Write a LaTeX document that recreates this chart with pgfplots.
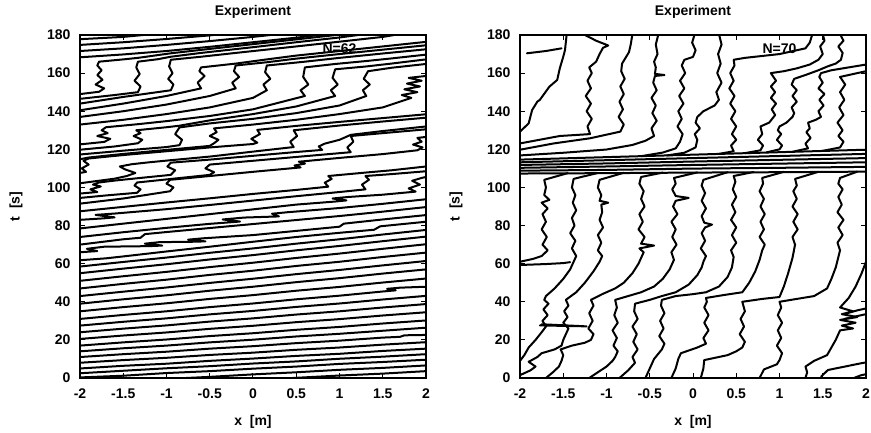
\documentclass[border=0pt]{standalone}
\usepackage{fontspec}
\setmainfont{Liberation Sans}
\usepackage{pgfplots}
\pgfplotsset{compat=1.18}
\pgfplotsset{
  traj/.style={black, line width=2pt, line join=round, line cap=round, no markers},
  panel/.style={
    width=346pt, height=343pt, scale only axis,
    xmin=-2, xmax=2, ymin=0, ymax=180,
    xtick={-2,-1.5,-1,-0.5,0,0.5,1,1.5,2},
    ytick={0,20,40,60,80,100,120,140,160,180},
    tick align=inside, tick pos=both,
    major tick length=5pt,
    axis line style={line width=1.2pt},
    every tick/.style={black, line width=1pt},
    /pgf/number format/assume math mode=true,
    tick label style={font=\fontsize{14}{16}\selectfont\bfseries},
    xticklabel style={yshift=-7pt},
    yticklabel style={xshift=-6pt},
    label style={font=\fontsize{14}{16}\selectfont\bfseries},
    xlabel={x\ \ [m]}, ylabel={t\ \ [s]},
    xlabel style={at={(axis description cs:0.5,-0.128)}, anchor=center},
    ylabel style={at={(axis description cs:-0.185,0.5)}, anchor=center},
    title={Experiment},
    title style={at={(axis description cs:0.5,1.049)}, anchor=center, font=\fontsize{14}{16}\selectfont\bfseries},
    clip=true,
  }
}
\begin{document}
\begin{tikzpicture}
\path[use as bounding box] (0,0) rectangle (871pt,432pt);
% ================= LEFT PANEL N=62 =================
\begin{axis}[panel, at={(80pt,54pt)}, anchor=south west]
% band A
\addplot[traj] coordinates {(-2,-6) (-1,-3.5) (0,-1.1) (0.5,0.1) (1,1.3) (1.5,2.3) (2,3.6)};
\addplot[traj] coordinates {(-2,-3) (-1,-0.5) (-0.5,0.6) (0,1.9) (0.5,3) (1,4.3) (1.5,5.3) (2,6.6)};
\addplot[traj] coordinates {(-2,0.3) (-1.5,1.2) (-1,2.6) (-0.5,3.6) (0,4.9) (0.5,6) (1,7.4) (1.5,8.4) (2,9.6)};
\addplot[traj] coordinates {(-2,2.5) (-1.5,3.8) (-1,5.1) (-0.5,6.2) (0,7.6) (0.5,8.7) (1,10.1) (1.5,11.2) (2,12.5)};
\addplot[traj] coordinates {(-2,5) (-1.5,6.4) (-1,7.5) (-0.5,9) (0,10.2) (0.5,11.6) (1,12.7) (1.5,14.2) (2,15.4)};
\addplot[traj] coordinates {(-2,8) (-1.5,9.4) (-1,10.6) (-0.5,12.1) (0,13.3) (0.5,14.8) (1,16) (1.5,17.5) (2,18.8)};
\addplot[traj] coordinates {(-2,11) (-1.5,12.5) (-1,13.8) (-0.5,15.4) (0,16.7) (0.5,18.3) (1,19.6) (1.5,21.2) (1.7,21.6) (1.75,22.4) (2,22.6)};
\addplot[traj] coordinates {(-2,14) (-1.5,15.6) (-1,17) (-0.5,18.7) (0,20.1) (0.5,21.8) (1,23.2) (1.5,24.8) (2,26.4)};
\addplot[traj] coordinates {(-2,17) (-1.5,18.7) (-1,20.2) (-0.5,22) (0,23.5) (0.5,25.3) (1,26.8) (1.5,28.6) (2,30.2)};
\addplot[traj] coordinates {(-2,20.5) (-1.5,22.3) (-1,23.9) (-0.5,25.8) (0,27.4) (0.5,29.3) (1,30.9) (1.5,32.8) (2,34.5)};
\addplot[traj] coordinates {(-2,24) (-1.5,25.9) (-1,27.6) (-0.5,29.6) (0,31.3) (0.5,33.3) (1,35) (1.5,37) (2,38.8)};
\addplot[traj] coordinates {(-2,27.5) (-1.5,29.5) (-1,31.3) (-0.5,33.4) (0,35.2) (0.5,37.3) (1,39.1) (1.5,41.2) (2,43.1)};
\addplot[traj] coordinates {(-2,31) (-1.5,33.1) (-1,35) (-0.5,37.2) (0,39.1) (0.5,41.3) (1,43.2) (1.5,45.4) (1.65,46) (1.55,46.8) (1.7,47.4) (2,47.9)};
\addplot[traj] coordinates {(-2,35) (-1.5,37.2) (-1,39.2) (-0.5,41.5) (0,43.5) (0.5,45.8) (1,47.8) (1.5,50.1) (2,52.2)};
\addplot[traj] coordinates {(-2,39) (-1.5,41.3) (-1,43.4) (-0.5,45.8) (0,47.9) (0.5,50.3) (1,52.4) (1.5,54.8) (2,57)};
\addplot[traj] coordinates {(-2,43) (-1.5,45.3) (-1,47.5) (-0.5,49.9) (0,52.1) (0.5,54.5) (1,56.7) (1.5,59.1) (2,61.4)};
\addplot[traj] coordinates {(-2,47) (-1.5,49.4) (-1,51.6) (-0.5,54.1) (0,56.3) (0.5,58.8) (1,61) (1.5,63.5) (2,65.8)};
\addplot[traj] coordinates {(-2,51) (-1.5,53.4) (-1,55.7) (-0.5,58.2) (0,60.5) (0.5,63) (1,65.3) (1.5,67.8) (2,70.2)};
\addplot[traj] coordinates {(-2,55) (-1.5,57.4) (-1,59.7) (-0.5,62.2) (0,64.5) (0.5,67) (1,69.3) (1.5,71.8) (2,74.2)};
\addplot[traj] coordinates {(-2,58.5) (-1.5,60.9) (-1,63.2) (-0.5,65.7) (0,68) (0.5,70.5) (1,72.8) (1.5,75.3) (2,77.7)};
% band B
\addplot[traj] coordinates {(-2,61.8) (-1.7,62.8) (-1.5,63.8) (-1,66.4) (-0.5,68.9) (0,71.5) (0.5,74) (1,76.2) (1.4,77.8) (1.47,79.6) (2,82)};
\addplot[traj] coordinates {(-2,66) (-1.8,66.6) (-1.92,67.8) (-1.72,68.9) (-1.2,69.2) (-1.05,69.5) (-1.25,70.5) (-1.08,71.3) (-0.7,71.5) (-0.55,71.7) (-0.75,72.6) (-0.58,73.3) (0,75) (0.5,77.2) (1,79.4) (1.05,81) (1.5,83.2) (2,85.5)};
\addplot[traj] coordinates {(-2,70) (-1.5,72.8) (-1.3,73.6) (-1.25,75.5) (-1,76.6) (-0.5,78.7) (0,80.8) (0.5,82.9) (1,85) (1.5,87.3) (2,89.7)};
\addplot[traj] coordinates {(-2,74) (-1.5,76.5) (-1,78.8) (-0.5,80.9) (-0.15,82.1) (-0.35,83.2) (-0.1,84.2) (0.3,84.8) (0.22,86.2) (0.4,87) (1,89.2) (1.5,91.4) (2,93.8)};
\addplot[traj] coordinates {(-2,78.5) (-1.5,81) (-1,83.5) (-0.5,86) (0,88.5) (0.5,91) (0.95,92.6) (1.08,93.2) (0.92,94.2) (1.1,95) (1.5,96.2) (1.88,97.8) (1.8,99.5) (1.93,101.5) (1.84,103.5) (1.95,105) (2,105.5)};
\addplot[traj] coordinates {(-2,83) (-1.72,83.8) (-1.6,84.3) (-1.82,85.6) (-1.6,86.3) (-1,88.6) (-0.5,90.8) (0,93.1) (0.5,95.4) (1,97.6) (1.3,99) (1.26,101.5) (1.34,104) (1.3,106) (1.6,107) (2,108.5)};
% band C
\addplot[traj] coordinates {(-2,87.5) (-1.5,89.8) (-1,92.1) (-0.5,94.3) (0,96.6) (0.5,98.7) (0.87,100.4) (0.83,102.5) (0.91,104.5) (0.87,106) (1.3,107.8) (1.6,109) (2,111)};
\addplot[traj] coordinates {(-2,91.5) (-1.5,94.2) (-0.96,98) (-0.92,100) (-1,102) (-0.96,104) (-0.5,106) (0,108.2) (0.55,110.5) (0.48,111.5) (0.6,112.5) (0.53,113.5) (1,115.5) (1.5,117.5) (1.9,119.5) (1.96,121) (1.85,122.5) (1.95,124) (1.9,126) (2,126.5)};
\addplot[traj] coordinates {(-2,94.5) (-1.7,95.8) (-1.34,97.2) (-1.3,99) (-1.37,101) (-1.34,102.6) (-0.96,104.4) (-0.5,106.6) (-0.45,108) (-0.55,110) (-0.5,112) (0,114) (0.5,116) (1.13,118.5) (1.09,121) (1.16,124) (1.13,127) (1.5,128.5) (2,130.5)};
\addplot[traj] coordinates {(-2,96.8) (-1.8,97.6) (-1.88,99) (-1.76,100.5) (-1.85,101.5) (-1.78,102.6) (-1.6,103.6) (-1.3,105) (-0.95,106.6) (-0.9,109) (-0.99,111) (-0.95,113) (-0.5,114.6) (0,116.6) (0.5,118.6) (0.8,119.7) (0.76,121.5) (0.83,123) (1,125) (1.13,127.6) (1.5,129.6) (2,132)};
\addplot[traj] coordinates {(-2,102.2) (-1.8,103.4) (-1.6,104.6) (-1.46,106) (-1.36,107.6) (-1.48,109.5) (-1.54,111) (-1.4,112.2) (-1.2,113.2) (-0.95,114.3) (-0.5,116.2) (0,118.8) (0.47,121.2) (0.43,124) (0.51,127) (0.47,130) (1,132.5) (1.5,134.6) (2,136.6)};
\addplot[traj] coordinates {(-2,107.6) (-1.93,108.2) (-1.98,110) (-1.9,112) (-1.96,114) (-1.9,115.2) (-1.5,117) (-1,119) (-0.5,121) (0,122.8) (0.05,123.5) (-0.02,125.5) (0.08,128) (0.05,130.2) (0.5,132.3) (1,134.4) (1.5,136.4) (2,138.4)};
% band C-D-E: passes that end in the jam row
\addplot[traj] coordinates {(-2,114.8) (-1.9,115.7) (-1.5,117.6) (-1,119.7) (-0.5,121.8) (-0.45,123.2) (-0.4,125) (-0.5,127) (-0.42,129) (-0.45,131) (0,133) (0.5,135.5) (1,138.5) (1.5,142) (1.83,147) (1.72,148.5) (1.9,150) (1.75,151.5) (1.93,153) (1.78,154.5) (1.95,156) (1.8,157.5) (2,158.5)};
\addplot[traj] coordinates {(-2,117.3) (-1.5,119.3) (-1,121.2) (-0.85,122.2) (-0.82,125) (-0.9,128) (-0.85,131.5) (-0.5,133.6) (0,136) (0.5,139) (1,143) (1.31,148) (1.27,151) (1.35,154) (1.28,157) (1.33,161) (1.6,162.8) (2,164.8)};
\addplot[traj] coordinates {(-2,119.8) (-1.6,121.5) (-1.33,123.2) (-1.28,125) (-1.38,127) (-1.3,128.5) (-1.35,130) (-1,131.6) (-0.85,132.4) (-0.5,135.2) (0,138.5) (0.5,142.5) (0.95,148) (0.9,151) (0.98,154) (0.92,157.5) (0.95,162) (1.31,163.5) (1.6,165) (2,167.2)};
\addplot[traj] coordinates {(-2,122.6) (-1.72,123.9) (-1.65,125.5) (-1.8,127) (-1.68,128.5) (-1.75,130) (-1.7,131.6) (-1.33,133.2) (-1,134.8) (-0.5,137.5) (0,141) (0.3,144.5) (0.6,148) (0.55,151) (0.64,154) (0.58,158) (0.6,163) (0.95,164.8) (1.3,166.3) (1.6,167.7) (2,169.7)};
\addplot[traj] coordinates {(-2,133) (-1.5,135.5) (-1,138.5) (-0.5,142) (0,147) (0.16,151) (0.12,154) (0.2,157) (0.14,160.5) (0.16,164) (0.6,166) (1,168) (1.5,170.3) (2,172.5)};
\addplot[traj] coordinates {(-2,137) (-1.5,140) (-1,143.5) (-0.5,148) (-0.2,152) (-0.24,155) (-0.16,158) (-0.22,161) (-0.2,164) (0.16,165.7) (0.5,167.6) (1,170) (1.5,172.3) (2,174.6)};
\addplot[traj] coordinates {(-2,140.5) (-1.5,144) (-1,148) (-0.6,152) (-0.64,155) (-0.56,158.5) (-0.62,161) (-0.6,163) (-0.2,165) (0.16,167.2) (0.5,169.2) (1,171.6) (1.5,174) (2,176.4)};
\addplot[traj] coordinates {(-2,144) (-1.5,147.5) (-0.95,151) (-0.92,154) (-0.98,157) (-0.93,160) (-0.97,163.5) (-0.95,167) (-0.6,168.6) (-0.2,170.6) (0.5,174) (1,176.5) (1.5,179) (1.7,180.5)};
\addplot[traj] coordinates {(-2,146.5) (-1.6,148.5) (-1.33,150) (-1.3,153) (-1.37,156) (-1.31,159.5) (-1.35,163) (-1.33,166) (-1.1,167.3) (-0.95,168.6) (-0.6,170.6) (0,173.6) (0.5,176.2) (1,178.7) (1.3,180.5)};
\addplot[traj] coordinates {(-2,149) (-1.78,150.2) (-1.72,152) (-1.82,154) (-1.74,156.5) (-1.8,159) (-1.75,161.5) (-1.8,164) (-1.78,166) (-1.5,167.2) (-1.33,168) (-0.95,170.4) (-0.5,172.7) (0,175.2) (0.5,177.7) (1,180.2)};
% band F
\addplot[traj] coordinates {(-2,168.3) (-1.5,169.8) (-1,171.6) (-0.5,173.8) (0,176.2) (0.5,178.6) (0.8,180.2)};
\addplot[traj] coordinates {(-2,171.6) (-1.5,173) (-1,174.8) (-0.5,176.8) (0,179) (0.3,180.5)};
\addplot[traj] coordinates {(-2,174.8) (-1.5,176.2) (-1,177.9) (-0.5,179.8) (-0.4,180.3)};
\addplot[traj] coordinates {(-2,177.8) (-1.5,179) (-1.2,180.3)};
\node[font=\fontsize{14}{16}\selectfont\bfseries] at (axis cs:1.0,172.7) {N=62};
\end{axis}
% ================= RIGHT PANEL N=70 =================
\begin{axis}[panel, at={(520pt,54pt)}, anchor=south west]
% R1 / R2 columns
\addplot[traj] coordinates {(-2,9) (-1.95,12) (-1.9,16) (-1.82,20) (-1.75,24) (-1.7,27) (-1.74,30) (-1.68,33) (-1.73,36) (-1.67,39) (-1.72,41) (-1.7,43) (-1.6,47) (-1.5,52) (-1.42,57) (-1.38,61) (-1.35,64) (-1.4,68) (-1.36,72) (-1.42,76) (-1.37,80) (-1.4,84) (-1.35,88) (-1.39,92) (-1.36,96) (-1.4,100) (-1.38,104.5) (-1.1,107.6)};
\addplot[traj] coordinates {(-2,1.5) (-1.88,4) (-1.82,6) (-1.9,8.5) (-1.8,11) (-1.75,13) (-1.6,15) (-1.52,17) (-1.5,20) (-1.47,23) (-1.44,26) (-1.5,29) (-1.45,32) (-1.49,35) (-1.44,38) (-1.47,41) (-1.35,45) (-1.25,50) (-1.15,56) (-1.08,61) (-1.05,64) (-1.1,67) (-1.06,71) (-1.1,75) (-1.04,79) (-1.08,83) (-1.05,87) (-1.06,91) (-0.98,92) (-1.08,93) (-1.06,96) (-1.1,100) (-1.08,104) (-0.8,107.7)};
\addplot[traj] coordinates {(-1.7,0) (-1.62,3) (-1.55,6) (-1.52,9) (-1.5,12) (-1.53,15) (-1.4,17) (-1.25,18.5) (-1.18,20) (-1.15,23) (-1.21,26) (-1.16,30) (-1.2,34) (-1.15,38) (-1.18,41) (-1.05,44) (-0.9,47) (-0.8,50) (-0.7,55) (-0.63,60) (-0.6,63) (-0.57,66) (-0.62,68) (-0.45,69.5) (-0.6,70.5) (-0.56,74) (-0.63,78) (-0.58,82) (-0.62,86) (-0.56,90) (-0.6,94) (-0.57,98) (-0.62,102) (-0.6,105.5) (-0.35,107.8)};
\addplot[traj] coordinates {(-1.2,0) (-1.1,3) (-1,6) (-0.93,9) (-0.9,11) (-0.87,14) (-0.92,17) (-0.88,21) (-0.93,25) (-0.87,29) (-0.91,33) (-0.88,37) (-0.9,41) (-0.75,43) (-0.6,45) (-0.45,48) (-0.35,52) (-0.27,57) (-0.22,62) (-0.25,66) (-0.19,70) (-0.24,74) (-0.2,78) (-0.25,82) (-0.18,86) (-0.23,90) (-0.2,93) (-0.05,94.5) (-0.2,95.5) (-0.24,99) (-0.2,102) (-0.22,105) (0.05,107.9)};
\addplot[traj] coordinates {(-0.85,0) (-0.75,4) (-0.67,8) (-0.7,11) (-0.64,15) (-0.69,19) (-0.65,23) (-0.7,27) (-0.64,31) (-0.68,35) (-0.67,39) (-0.5,41) (-0.36,43) (-0.2,45) (-0.05,49) (0.05,54) (0.1,58) (0.12,61) (0.15,64) (0.09,68) (0.14,72) (0.1,76) (0.14,79) (0.22,80.5) (0.13,81.5) (0.1,85) (0.15,89) (0.1,93) (0.14,97) (0.1,101) (0.12,104) (0.4,108)};
\addplot[traj] coordinates {(-0.55,0) (-0.5,5) (-0.45,10) (-0.36,15) (-0.33,18) (-0.39,22) (-0.34,26) (-0.38,30) (-0.33,34) (-0.37,38) (-0.36,41) (-0.2,43) (0,44) (0.15,45) (0.3,48) (0.4,53) (0.45,58) (0.47,63.5) (0.44,67) (0.5,71) (0.45,75) (0.5,79) (0.44,83) (0.49,87) (0.45,91) (0.5,95) (0.46,99) (0.49,103) (0.47,106) (0.7,108.1)};
\addplot[traj] coordinates {(-0.25,0) (-0.2,5) (-0.17,10) (-0.14,13) (0.05,16) (0.15,18) (0.12,21) (0.18,25) (0.13,29) (0.18,33) (0.13,37) (0.16,40) (0.15,42) (0.35,43.5) (0.57,45) (0.65,50) (0.72,56) (0.77,62) (0.8,67) (0.83,70) (0.77,74) (0.82,78) (0.78,82) (0.83,86) (0.78,90) (0.82,94) (0.77,98) (0.81,102) (0.8,105) (1.05,108.2)};
\addplot[traj] coordinates {(0.09,0) (0.12,5) (0.13,9.4) (0.4,12) (0.5,14) (0.57,16) (0.6,19) (0.54,23) (0.59,27) (0.55,31) (0.6,35) (0.57,40) (0.8,41.5) (1,42.5) (1.05,48) (1.1,55) (1.15,63) (1.18,70) (1.15,74) (1.21,78) (1.16,82) (1.21,86) (1.15,90) (1.2,94) (1.16,98) (1.2,101) (1.18,104.5) (1.45,108.2)};
\addplot[traj] coordinates {(0.77,0) (0.82,4.5) (0.97,7.2) (1,9.4) (1.03,13) (0.97,17) (1.02,21) (0.98,25) (1.03,29) (0.98,33) (1.02,37) (1,40) (1.2,41.5) (1.4,43) (1.55,47) (1.6,52) (1.65,58) (1.7,67) (1.67,71) (1.73,75) (1.68,79) (1.74,83) (1.67,87) (1.72,91) (1.68,95) (1.73,99) (1.68,102) (1.7,105) (1.9,108.3)};
\addplot[traj] coordinates {(1.3,0) (1.32,3) (1.3,6) (1.4,9) (1.55,12) (1.6,16) (1.65,20) (1.7,25) (1.85,26) (1.72,27.5) (1.88,29) (1.7,30.5) (1.9,32) (1.72,33.5) (1.85,35) (1.7,37) (1.8,42) (1.88,48) (1.95,55) (2,61)};
\addplot[traj] coordinates {(-2,61) (-1.85,62.5) (-1.75,64) (-1.68,67) (-1.74,70) (-1.69,74) (-1.75,78) (-1.7,82) (-1.74,86) (-1.68,89) (-1.75,92) (-1.66,93.5) (-1.72,96) (-1.7,100) (-1.72,104) (-1.45,107.5)};
\addplot[traj] coordinates {(-2,59.3) (-1.7,59.8) (-1.5,60.3) (-1.42,60.8)};
\addplot[traj] coordinates {(1.48,0.7) (1.56,4.2) (1.94,7.7) (2,8.2)};
\addplot[traj] coordinates {(1.86,0) (1.94,1.4) (2,2)};
\addplot[traj] coordinates {(1.75,31) (1.9,32.5) (2,33.5)};
\addplot[traj] coordinates {(1.78,34) (1.9,35.5) (2,36.5)};
\addplot[traj] coordinates {(-1.77,27.6) (-1.23,27.1) (-1.75,28.2)};
% bundle (fan)
\addplot[traj] coordinates {(-2,107.3) (-1,107.5) (0,107.8) (1,108) (2,108.3)};
\addplot[traj] coordinates {(-2,108.8) (-1,109.2) (0,109.9) (1,110.3) (2,110.8)};
\addplot[traj] coordinates {(-2,110.3) (-1,111) (0,111.8) (1,112.5) (2,113.2)};
\addplot[traj] coordinates {(-2,111.8) (-1,112.6) (0,113.6) (1,114.5) (2,115.4)};
\addplot[traj] coordinates {(-2,113.2) (-1,114.3) (0,115.4) (1,116.5) (2,117.6)};
\addplot[traj] coordinates {(-2,114.6) (-1,115.9) (0,117.2) (1,118.5) (2,119.8)};
% upper region columns
\addplot[traj] coordinates {(1.5,119.2) (1.7,121) (1.74,124) (1.68,127) (1.73,130) (1.67,134) (1.74,138) (1.69,142) (1.75,146) (1.7,150) (1.76,154) (1.7,158) (1.85,159.5) (2,161)};
\addplot[traj] coordinates {(1.15,118.7) (1.33,120.5) (1.3,123) (1.36,126) (1.31,129) (1.35,131) (1.33,134) (1.42,135.5) (1.48,137) (1.45,140) (1.51,143) (1.46,146) (1.52,149) (1.45,152) (1.5,155) (1.46,158) (1.48,160) (1.6,161.5) (1.8,163) (2,164.5)};
\addplot[traj] coordinates {(0.85,118.4) (1,120) (1.03,122) (0.97,125) (1.02,128) (0.98,130) (1,132) (1.08,134) (1.15,137) (1.17,139) (1.14,142) (1.2,145) (1.15,148) (1.2,151) (1.14,154) (1.17,157) (1.3,159) (1.45,161.5) (1.56,163.6) (1.65,165) (1.71,167) (1.73,170.6) (1.68,174) (1.74,177) (1.7,180.5)};
\addplot[traj] coordinates {(0.6,118) (0.78,119.5) (0.81,122) (0.75,125) (0.8,128) (0.78,132) (0.88,134) (0.95,138) (0.91,141) (0.96,144) (0.9,147) (0.95,150) (0.9,153) (0.96,156) (0.9,160) (1.05,161) (1.2,162.5) (1.35,164.5) (1.45,167) (1.5,170) (1.47,174) (1.52,177) (1.5,180.5)};
\addplot[traj] coordinates {(0.3,117.6) (0.47,119) (0.44,122) (0.5,125) (0.45,128) (0.5,132) (0.44,136) (0.49,140) (0.43,144) (0.48,148) (0.42,152) (0.47,156) (0.43,160) (0.48,164) (0.47,167) (0.6,168) (0.8,169) (1,170) (1.15,171.5) (1.3,173) (1.35,176) (1.38,180.5)};
\addplot[traj] coordinates {(-0.3,116.8) (-0.1,118.2) (0.03,121) (0.05,125) (0.02,128) (0.08,131) (0.03,134) (0.05,137) (0.12,140) (0.25,143) (0.3,146) (0.27,150) (0.33,155) (0.28,160) (0.32,165) (0.29,170) (0.33,175) (0.3,180.5)};
\addplot[traj] coordinates {(-0.6,116.4) (-0.35,118.3) (-0.2,120.5) (-0.15,124) (-0.12,128) (-0.18,132) (-0.13,136) (-0.17,140) (-0.11,144) (-0.16,148) (-0.1,152) (-0.15,156) (-0.09,160) (-0.13,164) (-0.1,167) (0,168.5) (0.03,172) (-0.01,176) (0.02,180.5)};
\addplot[traj] coordinates {(-2,116.8) (-1.5,118.2) (-1,119.9) (-0.7,122.3) (-0.55,124.5) (-0.45,127) (-0.48,131) (-0.42,135) (-0.47,139) (-0.43,143) (-0.48,147) (-0.42,151) (-0.46,155) (-0.44,158.5) (-0.33,159) (-0.44,159.6) (-0.43,163) (-0.45,166) (-0.41,170) (-0.43,175) (-0.4,180.5)};
\addplot[traj] coordinates {(-2,119.8) (-1.61,123.1) (-1.19,125.8) (-0.84,129.3) (-0.8,133) (-0.86,137) (-0.81,141) (-0.85,145) (-0.8,149) (-0.84,153) (-0.79,157) (-0.83,161) (-0.82,165) (-0.78,168) (-0.74,171) (-0.72,175) (-0.7,180.5)};
\addplot[traj] coordinates {(-2,123.1) (-1.54,127) (-1.19,128) (-1.22,132) (-1.17,136) (-1.23,140) (-1.18,144) (-1.24,148) (-1.18,152) (-1.22,156) (-1.17,160) (-1.2,163) (-1.12,166) (-1.08,170) (-1.04,173.3) (-0.98,174.5) (-1.12,177) (-1.27,180.5)};
\addplot[traj] coordinates {(-2,129.3) (-1.9,133.6) (-1.86,140.6) (-1.8,145) (-1.77,146) (-1.66,152.9) (-1.57,156.4) (-1.54,162.5) (-1.5,168.6) (-1.48,172) (-1.46,180.5)};
\addplot[traj] coordinates {(-1.92,170.4) (-1.7,171.6) (-1.52,173)};
\node[font=\fontsize{14}{16}\selectfont\bfseries] at (axis cs:1.0,172.7) {N=70};
\end{axis}
\end{tikzpicture}
\end{document}
